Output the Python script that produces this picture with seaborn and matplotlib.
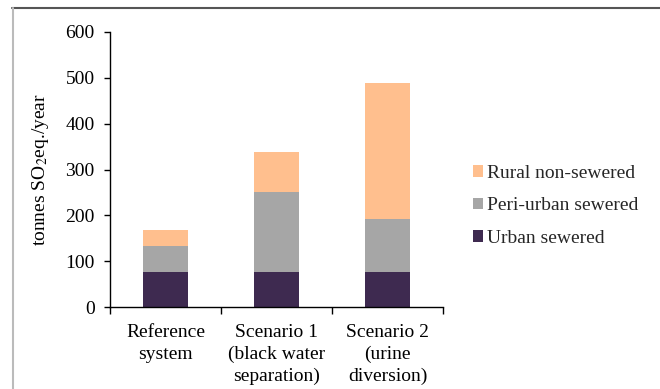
import matplotlib
matplotlib.use("Agg")
import matplotlib.pyplot as plt
import seaborn as sns
import pandas as pd
import numpy as np
from matplotlib.patches import Patch
from matplotlib.lines import Line2D

categories = ["Reference\nsystem", "Scenario 1\n(black water\nseparation)", "Scenario 2\n(urine\ndiversion)"]
urban_sewered = [77, 77, 77]
peri_urban_sewered = [57, 174, 116]
rural_non_sewered = [34, 88, 296]
series_names = ["Rural non-sewered", "Peri-urban sewered", "Urban sewered"]
colors = {"Rural non-sewered": "#FFBF8E", "Peri-urban sewered": "#A6A6A6", "Urban sewered": "#3E2A50"}
yticks = [0, 100, 200, 300, 400, 500, 600]

sns.set_theme(style="white")
plt.rcParams["font.family"] = ["Liberation Serif", "DejaVu Serif"]
plt.rcParams["mathtext.fontset"] = "stix"

df = pd.DataFrame({
    "cat": categories,
    "urban": urban_sewered,
    "peri": peri_urban_sewered,
    "rural": rural_non_sewered,
})
df["lvl2"] = df["urban"] + df["peri"]
df["lvl3"] = df["lvl2"] + df["rural"]

fig = plt.figure(figsize=(6.6, 3.89), dpi=100)
ax = fig.add_axes([110/660, 1-307/389, (443-110)/660, (307-32)/389])

sns.barplot(data=df, x="cat", y="lvl3", color=colors["Rural non-sewered"], width=0.4, ax=ax, saturation=1, linewidth=0)
sns.barplot(data=df, x="cat", y="lvl2", color=colors["Peri-urban sewered"], width=0.4, ax=ax, saturation=1, linewidth=0)
sns.barplot(data=df, x="cat", y="urban", color=colors["Urban sewered"], width=0.4, ax=ax, saturation=1, linewidth=0)

fs = 14
ax.set_xlim(-0.5, 2.5)
ax.set_ylim(0, 600)
ax.set_yticks(yticks)
ax.set_yticklabels([str(t) for t in yticks], fontsize=fs)
ax.set_xticks(range(len(categories)))
ax.set_xticklabels(categories, fontsize=fs, linespacing=1.38)
ax.set_xticks([-0.5, 0.5, 1.5, 2.5], minor=True)
ax.tick_params(axis="x", which="major", length=0, pad=12, colors="black")
ax.tick_params(axis="x", which="minor", length=5, width=1, direction="out", color="black", bottom=True)
ax.tick_params(axis="y", which="major", length=4, width=1, direction="out", color="black", left=True, pad=7, colors="black")
ax.set_xlabel("")
ax.set_ylabel("tonnes SO$_2$eq./year", fontsize=fs, color="black", labelpad=10)

for s in ["top", "right"]:
    ax.spines[s].set_visible(False)
for s in ["left", "bottom"]:
    ax.spines[s].set_color("black")
    ax.spines[s].set_linewidth(1)

handles = [Patch(facecolor=colors[n], edgecolor="none", label=n) for n in series_names]
leg = fig.legend(handles=handles, loc="center left", bbox_to_anchor=(465/660, 1-206/389),
                 frameon=False, fontsize=fs, handlelength=0.55, handleheight=0.55,
                 handletextpad=0.2, labelspacing=0.8, borderaxespad=0)

fig.add_artist(Line2D([12/660, 1], [1-8/389, 1-8/389], transform=fig.transFigure, color="#555555", lw=1.5))
fig.add_artist(Line2D([12.5/660, 12.5/660], [0, 1-8/389], transform=fig.transFigure, color="#BBBBBB", lw=1.5))

fig.savefig("out.png", dpi=100)
